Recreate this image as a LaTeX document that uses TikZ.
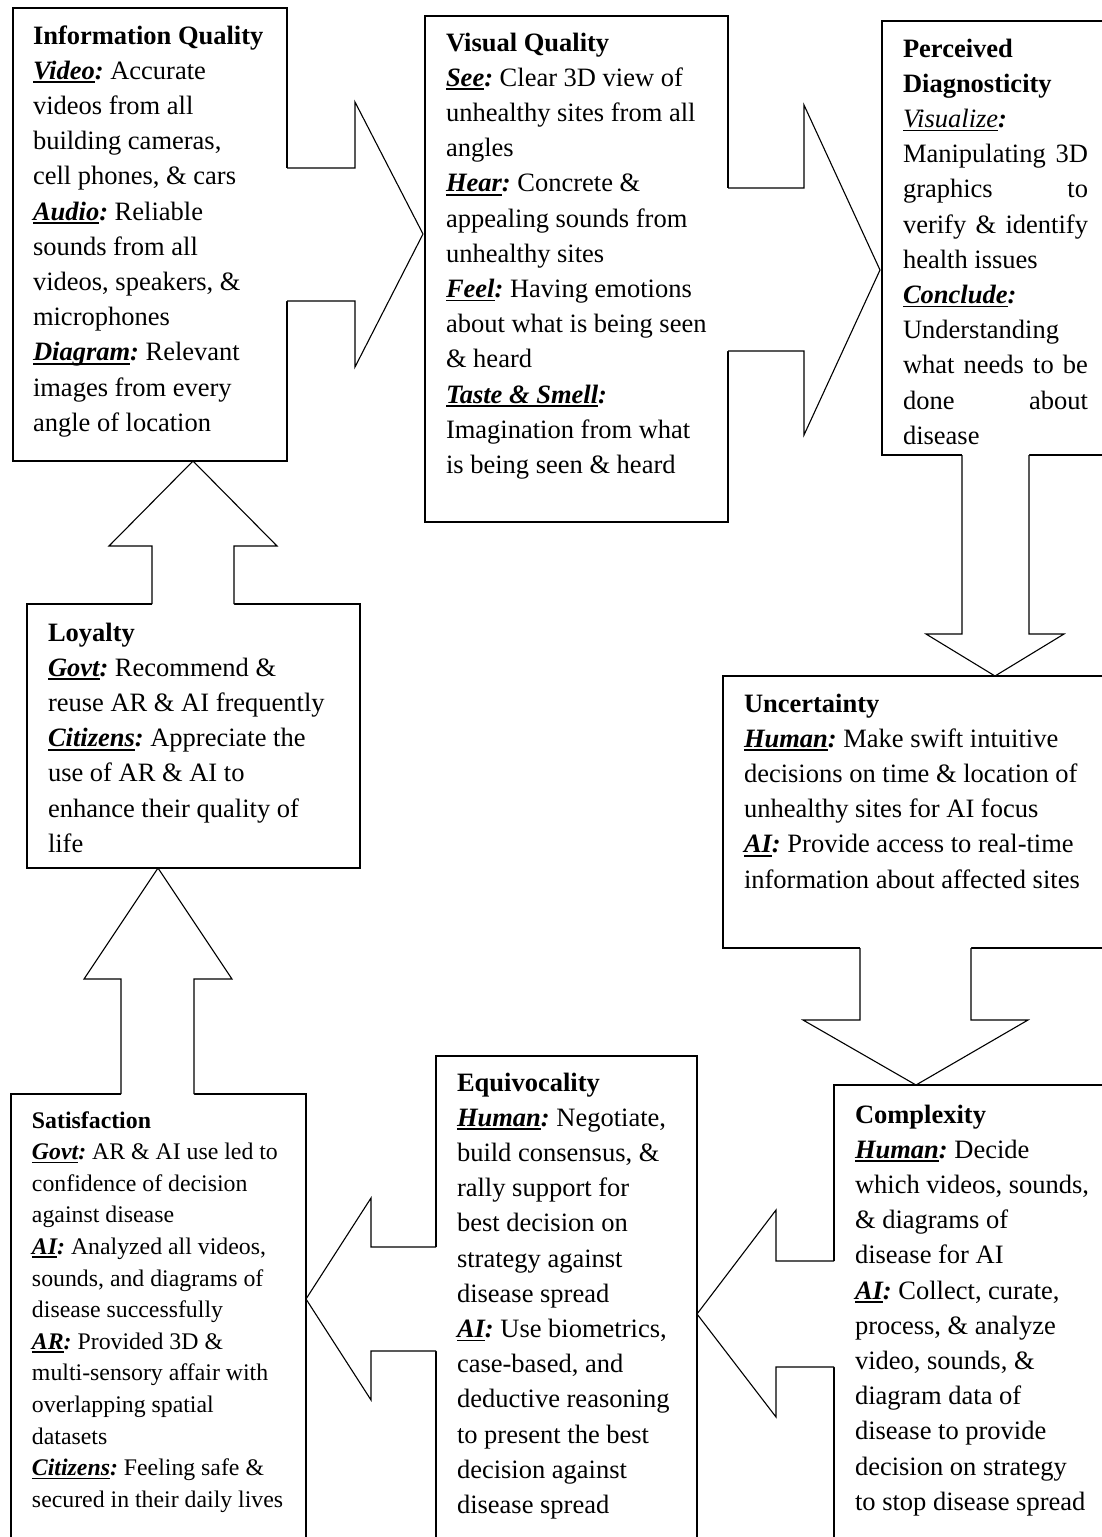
\documentclass[tikz,border=0pt]{standalone}
\usepackage{fontspec}
\setmainfont{Liberation Serif}
\frenchspacing
\newsavebox\lblbox
\newcommand\lbl[1]{\leavevmode\sbox\lblbox{\bfseries\itshape #1}\rlap{\rule[-0.15em]{\wd\lblbox}{0.07em}}\usebox\lblbox{\bfseries\itshape :}}
\newcommand\lblv[1]{\leavevmode\sbox\lblbox{\itshape #1}\rlap{\rule[-0.15em]{\wd\lblbox}{0.07em}}\usebox\lblbox{\bfseries\itshape :}}
\newcommand\mainsz{\fontsize{13.25pt}{17.6pt}\selectfont}
\newcommand\smallsz{\fontsize{11.9pt}{15.8pt}\selectfont}
\newcommand\barrow[9]{\fill[white] #1--#3--#4--#5--#6--#7--#9--cycle; \draw[blockarrow] #2--#3--#4--#5--#6--#7--#8;}
\tikzset{
  boxline/.style={draw=black, line width=0.7pt},
  heavybox/.style={draw=black, line width=1.1pt},
  blockarrow/.style={draw=black, line width=0.55pt, line join=miter},
  txt/.style={anchor=base west, inner sep=0pt, outer sep=0pt},
}
\begin{document}
\begin{tikzpicture}[x=0.5pt,y=-0.5pt]
\useasboundingbox (0,0) rectangle (1102,1537);
\clip (0,0) rectangle (1102,1537);
\fill[white] (0,0) rectangle (1102,1537);
% boxes
\draw[boxline] (13,8) rectangle (287,461);
\draw[boxline] (425,16) rectangle (728,522);
\draw[boxline] (882,21) rectangle (1120,455);
\draw[boxline] (723,676) rectangle (1120,948);
\draw[boxline] (834,1085) rectangle (1120,1560);
\draw[boxline] (436,1056) rectangle (697,1560);
\draw[heavybox] (11,1094) rectangle (306,1560);
\draw[heavybox] (27,604) rectangle (360,868);
% block arrows
\barrow{(284,168)}{(287,168)}{(355,168)}{(355,102)}{(423,234)}{(355,367)}{(355,301)}{(287,301)}{(284,301)}
\barrow{(725,188)}{(728,188)}{(804,188)}{(804,105)}{(880,270)}{(804,435)}{(804,351)}{(728,351)}{(725,351)}
\barrow{(962,452)}{(962,455)}{(962,634)}{(926,634)}{(995,676)}{(1064,634)}{(1029,634)}{(1029,455)}{(1029,452)}
\barrow{(860,945)}{(860,948)}{(860,1020)}{(803,1020)}{(916,1085)}{(1028,1020)}{(971,1020)}{(971,948)}{(971,945)}
\barrow{(837,1261)}{(834,1261)}{(776,1261)}{(776,1210)}{(697,1314)}{(776,1417)}{(776,1367)}{(834,1367)}{(837,1367)}
\barrow{(439,1247)}{(436,1247)}{(371,1247)}{(371,1198)}{(306,1299)}{(371,1400)}{(371,1351)}{(436,1351)}{(439,1351)}
\barrow{(121,1097)}{(121,1094)}{(121,979)}{(84,979)}{(158,868)}{(232,979)}{(194,979)}{(194,1094)}{(194,1097)}
\barrow{(152,607)}{(152,604)}{(152,546)}{(109,546)}{(193,461)}{(277,546)}{(234,546)}{(234,604)}{(234,607)}
% texts
\node[txt] (iqt) at (33,44) {\parbox[t]{150pt}{\mainsz\raggedright
\textbf{Information Quality}\\
\lbl{Video} Accurate\\
videos from all\\
building cameras,\\
cell phones, \& cars\\
\lbl{Audio} Reliable\\
sounds from all\\
videos, speakers, \&\\
microphones\\
\lbl{Diagram} Relevant\\
images from every\\
angle of location}};
\node[txt] (vqt) at (446,51) {\parbox[t]{150pt}{\mainsz\raggedright
\textbf{Visual Quality}\\
\lbl{See} Clear 3D view of\\
unhealthy sites from all\\
angles\\
\lbl{Hear} Concrete \&\\
appealing sounds from\\
unhealthy sites\\
\lbl{Feel} Having emotions\\
about what is being seen\\
\& heard\\
\lbl{Taste \& Smell}\\
Imagination from what\\
is being seen \& heard}};
\node[txt] (pdt) at (903,57) {\parbox[t]{92.5pt}{\mainsz\parindent=0pt
\textbf{Perceived}\\
\textbf{Diagnosticity}\\
\lblv{Visualize}\\
Manipulating\hfill 3D\\
graphics\hfill to\\
verify\hfill\&\hfill identify\\
health issues\\
\lbl{Conclude}\\
Understanding\\
what\hfill needs\hfill to\hfill be\\
done\hfill about\\
disease}};
\node[txt] (unt) at (744,712) {\parbox[t]{190pt}{\mainsz\raggedright
\textbf{Uncertainty}\\
\lbl{Human} Make swift intuitive\\
decisions on time \& location of\\
unhealthy sites for AI focus\\
\lbl{AI} Provide access to real-time\\
information about affected sites}};
\node[txt] (lot) at (48,641) {\parbox[t]{160pt}{\mainsz\raggedright
\textbf{Loyalty}\\
\lbl{Govt} Recommend \&\\
reuse AR \& AI frequently\\
\lbl{Citizens} Appreciate the\\
use of AR \& AI to\\
enhance their quality of\\
life}};
\node[txt] (sat) at (32,1128) {\parbox[t]{145pt}{\smallsz\raggedright
\textbf{Satisfaction}\\
\lbl{Govt} AR \& AI use led to\\
confidence of decision\\
against disease\\
\lbl{AI} Analyzed all videos,\\
sounds, and diagrams of\\
disease successfully\\
\lbl{AR} Provided 3D \&\\
multi-sensory affair with\\
overlapping spatial\\
datasets\\
\lbl{Citizens} Feeling safe \&\\
secured in their daily lives}};
\node[txt] (eqt) at (457,1091) {\parbox[t]{125pt}{\mainsz\raggedright
\textbf{Equivocality}\\
\lbl{Human} Negotiate,\\
build consensus, \&\\
rally support for\\
best decision on\\
strategy against\\
disease spread\\
\lbl{AI} Use biometrics,\\
case-based, and\\
deductive reasoning\\
to present the best\\
decision against\\
disease spread}};
\node[txt] (cxt) at (855,1123) {\parbox[t]{120pt}{\mainsz\raggedright
\textbf{Complexity}\\
\lbl{Human} Decide\\
which videos, sounds,\\
\& diagrams of\\
disease for AI\\
\lbl{AI} Collect, curate,\\
process, \& analyze\\
video, sounds, \&\\
diagram data of\\
disease to provide\\
decision on strategy\\
to stop disease spread}};
\end{tikzpicture}
\end{document}
